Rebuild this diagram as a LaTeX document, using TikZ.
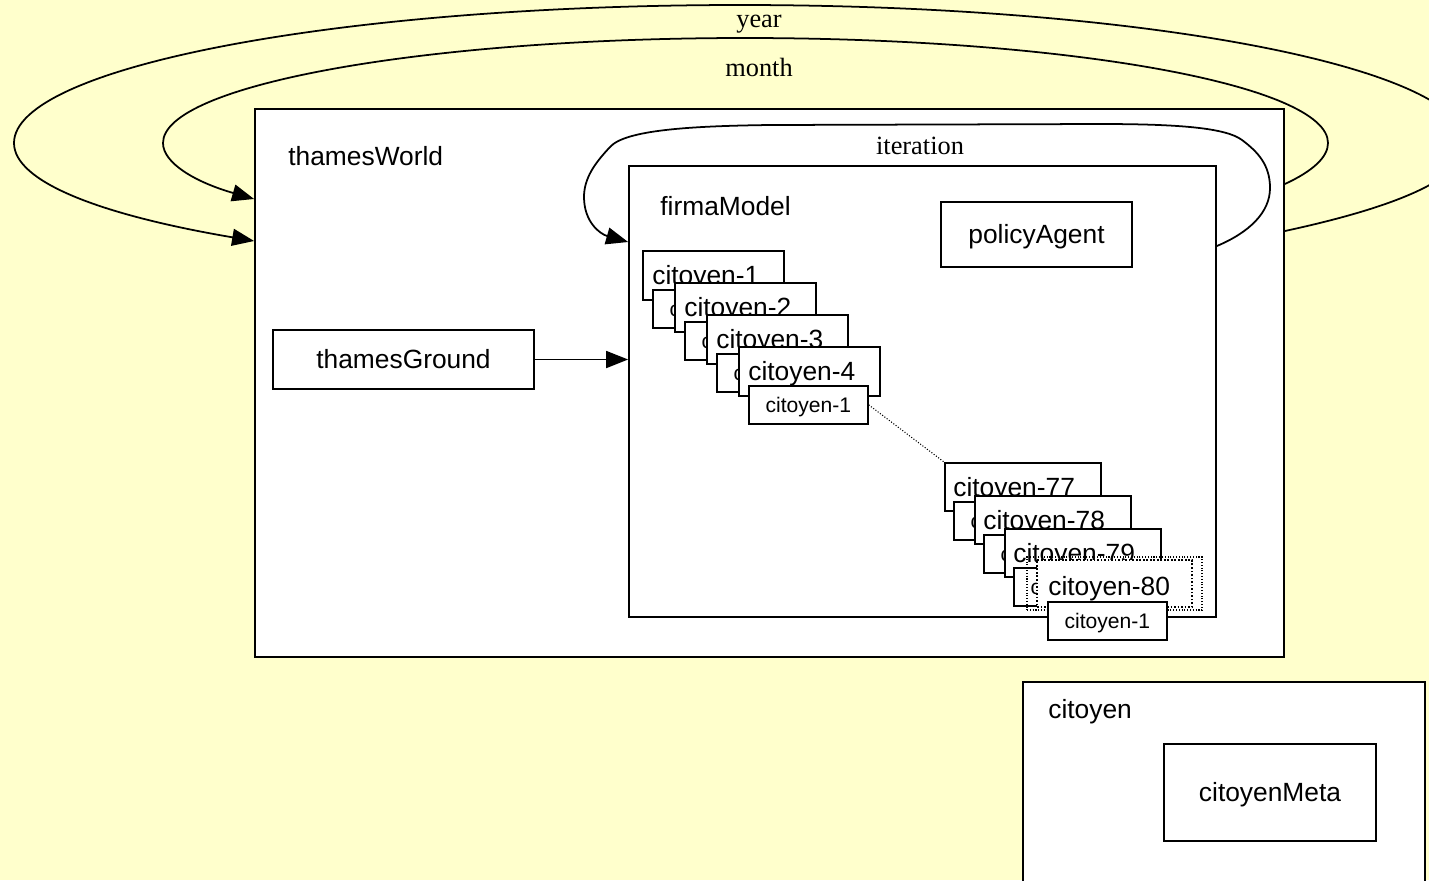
\documentclass[tikz,border=0pt]{standalone}
\usepackage{fontspec}
\setmainfont{Liberation Serif}
\setsansfont{Liberation Sans}
\usetikzlibrary{arrows.meta, fit, calc}
\definecolor{paleyellow}{RGB}{255,255,204}

\begin{document}
\begin{tikzpicture}[
  x=0.02cm, y=-0.02cm,
  box/.style={draw, fill=white, line width=1pt, inner sep=0pt},
  lbl/.style={font=\sffamily\fontsize{15}{18}\selectfont, inner sep=0pt},
  midlbl/.style={lbl, text height=10.7pt, text depth=0pt},
  bigcit/.style={box, minimum width=2.82cm, minimum height=0.98cm, anchor=north west},
  subcit/.style={box, font=\sffamily\fontsize{12}{14}\selectfont, minimum width=2.38cm,
                 minimum height=0.76cm, text height=8.6pt, text depth=0pt, anchor=north west},
  looplbl/.style={font=\fontsize{15}{18}\selectfont, inner sep=0pt},
  looparr/.style={line width=1pt, -{Triangle[length=0.44cm, width=0.34cm]}}
]
\useasboundingbox (0,0) rectangle (1429,880);
\fill[paleyellow] (0,0) rectangle (1429,880);
\clip (0,0) rectangle (1429,880);

% outer world
\node[box, fit={(255,109) (1284,657)}] (world) {};
\node[lbl, anchor=base west] (world-t) at (288,165) {thamesWorld};
\node[box, fit={(273,330) (534,389)}] (ground) {};
\node[midlbl] (ground-t) at (ground.center) {thamesGround};

% year and month loops
\draw[looparr] (world.east |- 0,231) .. controls (1401,206) and (1466,177) .. (1466,143)
  .. controls (1466,67) and (1141,5) .. (740,5)
  .. controls (339,5) and (14,67) .. (14,143)
  .. controls (14,182) and (101,215) .. (world.west |- 0,241);
\draw[looparr] (world.east |- 0,184) .. controls (1313,171) and (1328,157) .. (1328,143)
  .. controls (1328,85) and (1067,38) .. (745,38)
  .. controls (424,38) and (163,85) .. (163,143)
  .. controls (163,163) and (195,182) .. (world.west |- 0,199);
\node[looplbl] (year-t) at (759,24) {year};
\node[looplbl] (month-t) at (759,67) {month};

% model
\node[box, fit={(629,166) (1216,617)}] (firma) {};
\node[lbl, anchor=base west] (firma-t) at (660,215) {firmaModel};
\node[box, fit={(941,202) (1132,267)}] (policy) {};
\node[midlbl] (policy-t) at (policy.center) {policyAgent};

\draw[looparr] (firma.east |- 0,246) .. controls (1250,232) and (1270,212) .. (1270,188)
  .. controls (1270,165) and (1258,152) .. (1242,140)
  .. controls (1226,128) and (1180,124) .. (1100,124)
  -- (770,125)
  .. controls (690,126) and (625,130) .. (610,147)
  .. controls (595,163) and (584,178) .. (584,197)
  .. controls (584,222) and (600,234) .. (firma.west |- 0,242);
\node[looplbl] (iter-t) at (920,146) {iteration};

\draw[looparr] (ground.east) -- (ground.east -| firma.west);

% first agents
\foreach \k in {0,...,3} {
  \pgfmathtruncatemacro{\cn}{\k+1}
  \node[bigcit] (cit\cn) at ({642+32*\k},{250+32*\k}) {};
  \node[lbl, anchor=base west] (cit\cn-t) at ({652+32*\k},{284+32*\k}) {citoyen-\cn};
  \node[subcit] (sub\cn) at ({652+32*\k},{289+32*\k}) {citoyen-1};
}

\draw[densely dotted, line width=0.6pt] (sub4.east) -- (944,462);

% last agents
\foreach \k/\cn in {0/77,1/78,2/79} {
  \node[bigcit, minimum width=3.12cm, minimum height=0.96cm] (cit\cn) at ({944+30*\k},{462+33*\k}) {};
  \node[lbl, anchor=base west] (cit\cn-t) at ({953+30*\k},{496+33*\k}) {citoyen-\cn};
  \node[subcit] (sub\cn) at ({953+30*\k},{501+33*\k}) {citoyen-1};
}
\node[draw, densely dotted, line width=0.6pt, inner sep=0pt, fit={(1027,557) (1202,610)}] (sel80) {};
\node[box, densely dotted, line width=0.6pt, fit={(1037,560) (1192,607)}] (cit80) {};
\node[lbl, anchor=base west] (cit80-t) at (1048,595) {citoyen-80};
\node[subcit] (sub80) at (1047,601) {citoyen-1};

% agent type
\node[box, fit={(1023,682) (1425,900)}] (citoyen) {};
\node[lbl, anchor=base west] (citoyen-t) at (1048,718) {citoyen};
\node[box, fit={(1164,744) (1376,841)}] (meta) {};
\node[midlbl] (meta-t) at (meta.center) {citoyenMeta};
\end{tikzpicture}
\end{document}
